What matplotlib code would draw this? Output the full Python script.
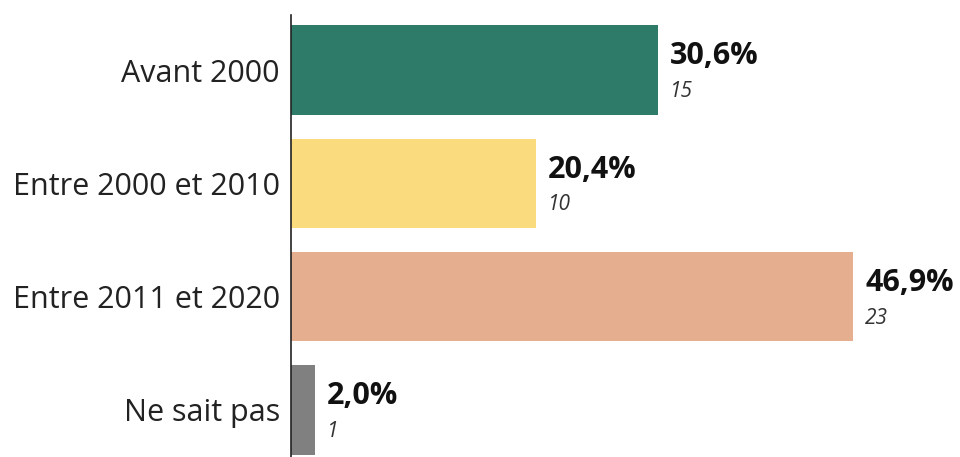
import matplotlib.pyplot as plt
from matplotlib import rcParams

# ----- Data -----
categories = ["Avant 2000", "Entre 2000 et 2010", "Entre 2011 et 2020", "Ne sait pas"]
percents = [30.6, 20.4, 46.9, 2.0]
counts = [15, 10, 23, 1]
colors = ["#2e7b6a", "#fadc7e", "#e5ae8e", "#808080"]

rcParams["font.family"] = "Open Sans"

fig = plt.figure(figsize=(9.6, 4.57), dpi=100)
ax = fig.add_axes([0.303, 0.0, 0.687, 0.967])

y = list(range(len(categories)))
bars = ax.barh(y, percents, color=colors, height=0.79, edgecolor="none")

for bar, pct, n in zip(bars, percents, counts):
    x = bar.get_width() + 1.0
    yc = bar.get_y() + bar.get_height() / 2
    ax.text(x, yc - 0.12, f"{pct:.1f}%".replace(".", ","), fontsize=22,
            fontweight="bold", color="#111111", ha="left", va="center")
    ax.text(x, yc + 0.19, str(n), fontsize=15, fontstyle="italic",
            color="#333333", ha="left", va="center")

ax.set_yticks(y)
ax.set_yticklabels(categories)
ax.set_xlim(0, 55)
ax.set_ylim(3.415, -0.485)
ax.set_xticks([])
ax.tick_params(axis="y", length=0, pad=8, labelsize=22, labelcolor="#222222")
for s in ("top", "right", "bottom"):
    ax.spines[s].set_visible(False)
ax.spines["left"].set_color("#222222")
ax.spines["left"].set_linewidth(1.2)

fig.savefig("out.png", dpi=100, facecolor="white")
